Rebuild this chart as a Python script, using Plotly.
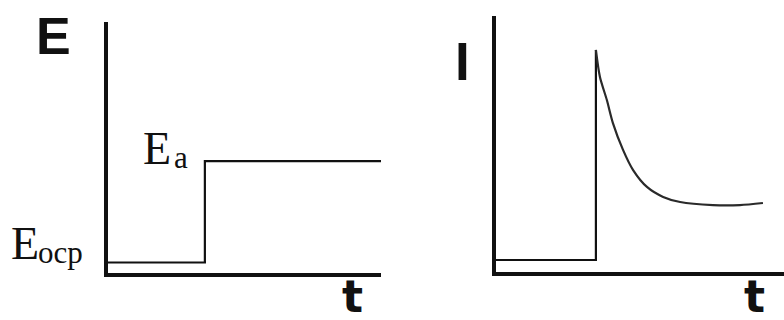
import plotly.graph_objs as go

# left panel: applied potential step
t_step = [0, 3.56, 3.56, 10]
e_step = [0.40, 0.40, 4.45, 4.45]

# right panel: current before the step, then the transient
t_base = [0, 3.48, 3.48]
i_base = [0.45, 0.45, 8.67]
t_decay = [3.48, 3.62, 3.86, 4.07, 4.42, 4.77, 5.25, 5.81, 6.40, 7.54, 8.47, 9.27]
i_decay = [8.67, 7.61, 6.71, 5.81, 4.76, 3.97, 3.31, 2.92, 2.72, 2.60, 2.60, 2.68]

trace1 = go.Scatter(x=t_step, y=e_step, mode='lines',
                    line=dict(color='#111111', width=2.2),
                    xaxis='x', yaxis='y', hoverinfo='skip')

trace2 = go.Scatter(x=t_base, y=i_base, mode='lines',
                    line=dict(color='#111111', width=2.2),
                    xaxis='x2', yaxis='y2', hoverinfo='skip')

trace3 = go.Scatter(x=t_decay, y=i_decay, mode='lines',
                    line=dict(color='#2a2a2a', width=2.2, shape='spline', smoothing=0.8),
                    xaxis='x2', yaxis='y2', hoverinfo='skip')

ax = dict(showline=True, linecolor='#111111', linewidth=4, showgrid=False,
          zeroline=False, showticklabels=False, ticks='', range=[0, 10], fixedrange=True)

sans = dict(family='Liberation Sans, Arial, sans-serif', color='#111111')
tfont = dict(family='DejaVu Sans, Verdana, sans-serif', color='#111111', size=44)
serif = dict(family='Liberation Serif, Times New Roman, serif', color='#111111', size=46)
sub = dict(family='Liberation Serif, Times New Roman, serif', color='#111111', size=31)


def py(px):
    return 1 - px / 320


def pxx(px):
    return px / 784


annotations = [
    dict(text='<b>E</b>', x=pxx(54), y=py(36), font=dict(size=52, **sans)),
    dict(text='<b>I</b>', x=pxx(462), y=py(61), font=dict(size=53, **sans)),
    dict(text='<b>t</b>', x=pxx(352), y=py(296), font=tfont),
    dict(text='<b>t</b>', x=pxx(754), y=py(296), font=tfont),
    dict(text='E', x=pxx(141), y=py(148), xanchor='left', font=serif),
    dict(text='a', x=pxx(172), y=py(157), xanchor='left', font=sub),
    dict(text='E', x=pxx(9), y=py(243), xanchor='left', font=serif),
    dict(text='ocp', x=pxx(36), y=py(252), xanchor='left', font=sub),
]
for a in annotations:
    a.update(xref='paper', yref='paper', showarrow=False)
    a.setdefault('xanchor', 'center')
    a.setdefault('yanchor', 'middle')

layout = go.Layout(
    width=784, height=320,
    margin=dict(l=0, r=0, t=0, b=0),
    paper_bgcolor='white', plot_bgcolor='white',
    showlegend=False,
    xaxis=dict(domain=[107.5 / 784, 381 / 784], anchor='y', **ax),
    yaxis=dict(domain=[py(272.5), py(22)], anchor='x', **ax),
    xaxis2=dict(domain=[495.5 / 784, 1.0], anchor='y2', **ax),
    yaxis2=dict(domain=[py(271.5), py(16)], anchor='x2', **ax),
    annotations=annotations,
)

fig = go.Figure(data=[trace1, trace2, trace3], layout=layout)
fig.write_html('out.html', config=dict(displayModeBar=False),
               post_script="document.body.style.margin='0';")
